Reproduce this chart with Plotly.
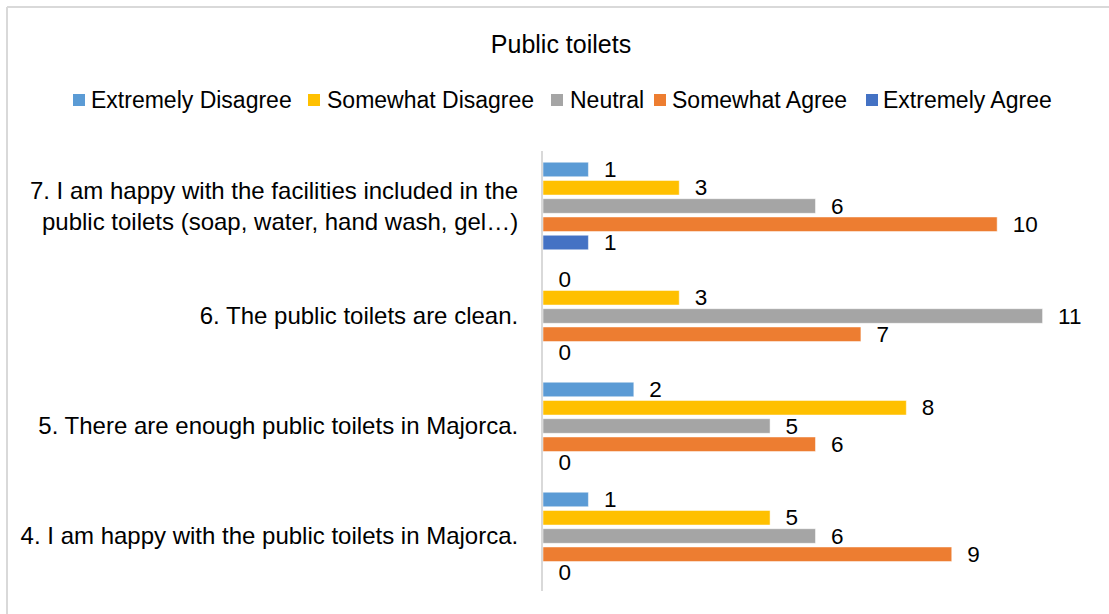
import plotly.graph_objects as go

# Survey statements (top to bottom) and response counts per answer level
statements = [
    "7. I am happy with the facilities included in the<br>public toilets (soap, water, hand wash, gel…)",
    "6. The public toilets are clean.",
    "5. There are enough public toilets in Majorca.",
    "4. I am happy with the public toilets in Majorca.",
]
series_names = ["Extremely Disagree", "Somewhat Disagree", "Neutral",
                "Somewhat Agree", "Extremely Agree"]
extremely_disagree = [1, 0, 2, 1]
somewhat_disagree = [3, 3, 8, 5]
neutral = [6, 11, 5, 6]
somewhat_agree = [10, 7, 6, 9]
extremely_agree = [1, 0, 0, 0]
series_values = [extremely_disagree, somewhat_disagree, neutral,
                 somewhat_agree, extremely_agree]
series_colors = ["#5B9BD5", "#FFC000", "#A5A5A5", "#ED7D31", "#4472C4"]

W, H = 1109, 614
L, R, T, B = 543, 21, 151, 23
FONT = "Liberation Sans, Arial, sans-serif"
pw = W - L - R
ph = H - T - B


def px(x):
    """page x pixel -> paper fraction"""
    return (x - L) / pw


def py(y):
    """page y pixel (from top) -> paper fraction"""
    return (H - B - y) / ph


fig = go.Figure()
for name, vals, color in zip(series_names, series_values, series_colors):
    fig.add_trace(go.Bar(
        name=name, y=statements, x=vals, orientation="h",
        marker=dict(color=color, line=dict(color="white", width=0.5)),
        text=["\u00a0\u00a0" + str(v) for v in vals], textposition="outside",
        constraintext="none",
        textfont=dict(size=22.5, color="#000000", family=FONT),
        cliponaxis=False, showlegend=False,
    ))

# legend row: coloured square followed by the series name
legend_square_left = [73, 308, 551, 654, 866]
legend_text_left = [90, 326, 569, 671, 882]
for name, color, sx, tx in zip(series_names, series_colors,
                               legend_square_left, legend_text_left):
    fig.add_shape(type="rect", xref="paper", yref="paper",
                  x0=px(sx), x1=px(sx + 12), y0=py(106), y1=py(94),
                  fillcolor=color, line=dict(width=0))
    fig.add_annotation(text=name, xref="paper", yref="paper",
                       x=px(tx), y=py(100), xanchor="left", yanchor="middle",
                       showarrow=False, font=dict(size=23, family=FONT),
                       xshift=-1)

# light frame around the chart area (top and left edges)
fig.add_shape(type="line", xref="paper", yref="paper", x0=px(7), x1=px(W + 5),
              y0=py(7), y1=py(7), line=dict(color="#D9D9D9", width=2))
fig.add_shape(type="line", xref="paper", yref="paper", x0=px(7), x1=px(7),
              y0=py(7), y1=py(H + 5), line=dict(color="#D9D9D9", width=2))

fig.update_layout(
    width=W, height=H,
    margin=dict(l=L, r=R, t=T, b=B),
    paper_bgcolor="white", plot_bgcolor="white",
    font=dict(family=FONT, size=23, color="#000000"),
    title=dict(text="Public toilets", x=561 / W, xanchor="center",
               y=1 - 44 / H, yanchor="middle", font=dict(size=25)),
    barmode="group", bargap=0.17, bargroupgap=0.2,
    showlegend=False,
)
fig.update_xaxes(range=[0, 12], showgrid=False, showticklabels=False,
                 zeroline=False, showline=False, ticks="")
fig.update_yaxes(autorange="reversed", showgrid=False, ticks="",
                 showline=True, linecolor="#D9D9D9", linewidth=2,
                 ticklabelstandoff=18, tickfont=dict(size=24))

fig.write_html("out.html")
